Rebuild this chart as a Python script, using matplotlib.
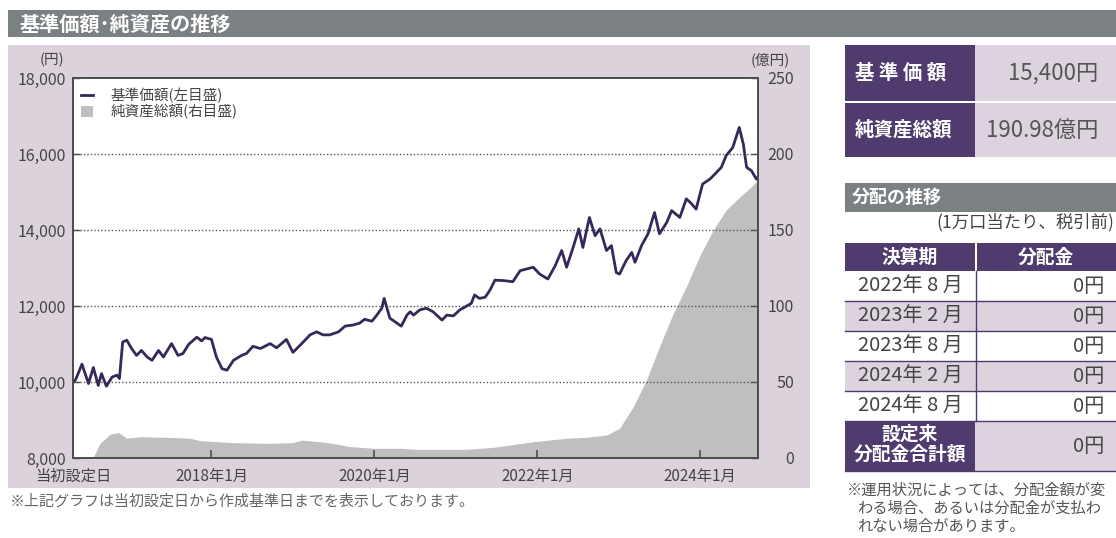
import matplotlib.pyplot as plt
from matplotlib.lines import Line2D
from matplotlib.patches import Patch, Rectangle
from matplotlib.ticker import FuncFormatter

plt.rcParams["font.family"] = ["Noto Sans CJK JP", "DejaVu Sans"]

W, H = 1116, 538

PURPLE = "#4f3b6d"
LAVENDER = "#ddd3df"
PANEL = "#dcd2dc"
BAR_GRAY = "#7b8083"
TEXT = "#444444"
LINE = "#37285a"
FILL = "#bfbfbf"
SPINE = "#4d4d4d"

# 基準価額 (円) - 時点は小数の年
nav_t = [2016.30, 2016.33, 2016.41, 2016.49, 2016.55, 2016.61, 2016.65, 2016.71,
         2016.78, 2016.84, 2016.87, 2016.91, 2016.96, 2017.02, 2017.08, 2017.14,
         2017.21, 2017.27, 2017.35, 2017.41, 2017.51, 2017.59, 2017.65, 2017.72,
         2017.82, 2017.88, 2017.92, 2018.00, 2018.06, 2018.13, 2018.19, 2018.27,
         2018.37, 2018.43, 2018.51, 2018.60, 2018.72, 2018.80, 2018.92, 2019.00,
         2019.09, 2019.21, 2019.29, 2019.37, 2019.45, 2019.56, 2019.64, 2019.74,
         2019.82, 2019.88, 2019.97, 2020.03, 2020.09, 2020.12, 2020.15, 2020.19,
         2020.25, 2020.33, 2020.40, 2020.44, 2020.48, 2020.56, 2020.64, 2020.72,
         2020.83, 2020.89, 2020.97, 2021.05, 2021.11, 2021.19, 2021.23, 2021.29,
         2021.36, 2021.42, 2021.48, 2021.58, 2021.70, 2021.79, 2021.95, 2022.03,
         2022.13, 2022.22, 2022.30, 2022.36, 2022.44, 2022.51, 2022.56, 2022.64,
         2022.71, 2022.77, 2022.85, 2022.91, 2022.97, 2023.01, 2023.09, 2023.16,
         2023.20, 2023.28, 2023.36, 2023.44, 2023.50, 2023.59, 2023.65, 2023.75,
         2023.83, 2023.89, 2023.95, 2024.03, 2024.12, 2024.18, 2024.26, 2024.32,
         2024.40, 2024.48, 2024.53, 2024.57, 2024.63, 2024.69, 2024.71]
nav = [10000, 10050, 10470, 9960, 10380, 9910, 10220, 9890,
       10130, 10180, 10090, 11050, 11100, 10880, 10700, 10830,
       10660, 10570, 10830, 10660, 11010, 10700, 10750, 10990,
       11180, 11080, 11170, 11120, 10660, 10350, 10310, 10570,
       10700, 10750, 10940, 10880, 11010, 10900, 11120, 10780,
       10970, 11240, 11320, 11240, 11240, 11320, 11470, 11500,
       11550, 11650, 11600, 11760, 11940, 12200, 11980, 11680,
       11590, 11470, 11760, 11850, 11760, 11900, 11940, 11850,
       11630, 11760, 11740, 11900, 11970, 12070, 12290, 12200,
       12230, 12420, 12680, 12670, 12640, 12930, 13020, 12840,
       12710, 13060, 13460, 13020, 13540, 14030, 13540, 14330,
       13850, 14030, 13460, 13590, 12880, 12840, 13190, 13410,
       13150, 13590, 13900, 14460, 13900, 14200, 14510, 14330,
       14820, 14700, 14550, 15210, 15340, 15470, 15650, 15960,
       16170, 16700, 16260, 15650, 15560, 15340, 15400]

# 純資産総額 (億円)
aum_t = [2016.30, 2016.55, 2016.63, 2016.76, 2016.86, 2016.96, 2017.12, 2017.45,
         2017.74, 2017.86, 2018.27, 2018.68, 2019.00, 2019.11, 2019.33, 2019.49,
         2019.70, 2019.99, 2020.31, 2020.52, 2021.13, 2021.46, 2021.95, 2022.36,
         2022.60, 2022.85, 2023.01, 2023.18, 2023.34, 2023.50, 2023.67, 2023.83,
         2023.99, 2024.16, 2024.32, 2024.49, 2024.63, 2024.71]
aum = [0, 0.5, 9.6, 15.8, 16.7, 13.0, 14.0, 13.6,
       13.0, 11.4, 10.1, 9.6, 10.1, 11.8, 10.7, 9.6,
       7.5, 6.4, 6.4, 5.7, 5.7, 7.0, 10.7, 13.0,
       13.6, 15.1, 19.5, 33.8, 51.3, 73.2, 95.2, 112.7,
       132.4, 150.0, 163.2, 171.9, 178.5, 183.0]

start_label = "当初設定日"
year_ticks = [2018, 2020, 2022, 2024]
year_labels = ["2018年1月", "2020年1月", "2022年1月", "2024年1月"]
nav_ticks = [8000, 10000, 12000, 14000, 16000, 18000]
aum_ticks = [0, 50, 100, 150, 200, 250]

latest_nav = "15,400円"
latest_aum = "190.98億円"

dist_periods = ["2022年 8 月", "2023年 2 月", "2023年 8 月", "2024年 2 月", "2024年 8 月"]
dist_amounts = ["0円", "0円", "0円", "0円", "0円"]
dist_total = "0円"


def fx(x):
    return x / W


def fy(y):
    return 1 - y / H


fig = plt.figure(figsize=(W / 100, H / 100), dpi=100)
fig.patch.set_facecolor("white")


def box(x0, y0, x1, y1, color):
    fig.patches.append(Rectangle((fx(x0), fy(y1)), (x1 - x0) / W, (y1 - y0) / H,
                                 transform=fig.transFigure, facecolor=color,
                                 edgecolor="none", zorder=-1))


def hline(x0, x1, y, color=PURPLE, lw=1.0):
    fig.add_artist(Line2D([fx(x0), fx(x1)], [fy(y), fy(y)], transform=fig.transFigure,
                          color=color, lw=lw))


def vline(x, y0, y1, color=PURPLE, lw=1.0):
    fig.add_artist(Line2D([fx(x), fx(x)], [fy(y0), fy(y1)], transform=fig.transFigure,
                          color=color, lw=lw))


def label(x, y, s, **kw):
    kw.setdefault("va", "center")
    kw.setdefault("color", TEXT)
    fig.text(fx(x), fy(y), s, **kw)


# ---- 左: チャート ----
box(8, 10, W, 37, BAR_GRAY)
label(20, 24, "基準価額･純資産の推移", color="white", fontsize=14.5, fontweight="bold")
box(8, 45, 810, 488, PANEL)

ax = fig.add_axes([fx(73), fy(458), (758 - 73) / W, (458 - 78) / H])
ax2 = ax.twinx()
ax.set_zorder(ax2.get_zorder() + 1)
ax.patch.set_visible(False)
ax2.patch.set_visible(True)
ax2.patch.set_facecolor("white")

ax2.fill_between(aum_t, aum, 0, color=FILL, lw=0)
ax.plot(nav_t, nav, color=LINE, lw=2.0, solid_joinstyle="round")

ax.set_xlim(nav_t[0], nav_t[-1])
ax.set_ylim(8000, 18000)
ax2.set_ylim(0, 250)

ax.set_xticks([nav_t[0]] + year_ticks)
ax.set_xticklabels([start_label] + year_labels)
ax.xaxis.get_major_ticks()[0].tick1line.set_visible(False)
ax.set_yticks(nav_ticks)
ax.yaxis.set_major_formatter(FuncFormatter(lambda v, p: f"{v:,.0f}"))
ax2.set_yticks(aum_ticks)

ax.tick_params(axis="x", direction="in", length=6, width=1.2, color=SPINE,
               labelsize=11, labelcolor=TEXT, pad=7)
ax.tick_params(axis="y", direction="in", length=5, width=1.0, color=SPINE,
               labelsize=11.5, labelcolor=TEXT, pad=5)
ax2.tick_params(axis="y", direction="in", length=5, width=1.0, color=SPINE,
                labelsize=11.5, labelcolor=TEXT, pad=26)
for t in ax2.get_yticklabels():
    t.set_horizontalalignment("right")

for a in (ax, ax2):
    for s in a.spines.values():
        s.set_color(SPINE)
        s.set_linewidth(1.3)

for v in nav_ticks[1:-1]:
    ax.axhline(v, color="#555555", lw=1.0, ls=(0, (1, 1.5)), zorder=1)

handles = [Line2D([0], [0], color=LINE, lw=2.0), Patch(facecolor=FILL, edgecolor="none")]
leg = ax.legend(handles, ["基準価額(左目盛)", "純資産総額(右目盛)"], loc="upper left",
                bbox_to_anchor=(0.012, 0.975), frameon=False, fontsize=10.5,
                handlelength=0.8, handleheight=0.7, handletextpad=1.2,
                labelspacing=0.1, borderpad=0, borderaxespad=0)
for t in leg.get_texts():
    t.set_color(TEXT)

label(52, 60, "(円)", ha="center", fontsize=10.5)
label(770, 60, "(億円)", ha="center", fontsize=10.5)
label(10, 501, "※上記グラフは当初設定日から作成基準日までを表示しております。",
      fontsize=10.8, color="#666666")

# ---- 右: 基準価額・純資産 ----
box(845, 45, 975, 101, PURPLE)
box(975, 45, W, 101, LAVENDER)
box(845, 103, 975, 157, PURPLE)
box(975, 103, W, 157, LAVENDER)
label(855, 73, "基 準 価 額", color="white", fontsize=14, fontweight="bold")
label(855, 130, "純資産総額", color="white", fontsize=14, fontweight="bold")
label(1098, 73, latest_nav, ha="right", fontsize=16, color="#555555")
label(1098, 130, latest_aum, ha="right", fontsize=16, color="#555555")

# ---- 右: 分配の推移 ----
box(845, 183, W, 212, BAR_GRAY)
label(852, 197, "分配の推移", color="white", fontsize=13, fontweight="bold")
label(1114, 222, "(1万口当たり、税引前)", ha="right", fontsize=12.5)

box(845, 243, 975, 271, PURPLE)
box(977, 243, W, 271, PURPLE)
label(910, 257, "決算期", ha="center", color="white", fontsize=13.5, fontweight="bold")
label(1046, 257, "分配金", ha="center", color="white", fontsize=13.5, fontweight="bold")

row_h = 30
for i, (period, amount) in enumerate(zip(dist_periods, dist_amounts)):
    y0 = 271 + i * row_h
    bg = LAVENDER if i % 2 else "white"
    box(845, y0, W, y0 + row_h, bg)
    label(910, y0 + row_h / 2, period, ha="center", fontsize=14.5)
    label(1104, y0 + row_h / 2, amount, ha="right", fontsize=14.5)
    if i > 0:
        hline(845, W, y0)

y_total = 271 + len(dist_periods) * row_h
box(845, y_total, 975, y_total + 50, PURPLE)
box(975, y_total, W, y_total + 50, LAVENDER)
hline(845, W, y_total)
vline(976, 271, y_total)
hline(845, W, y_total + 50)
label(910, y_total + 13, "設定来", ha="center", color="white", fontsize=13.5, fontweight="bold")
label(910, y_total + 33, "分配金合計額", ha="center", color="white", fontsize=13.5, fontweight="bold")
label(1104, y_total + 25, dist_total, ha="right", fontsize=14.5)

notes = ["※運用状況によっては、分配金額が変", "わる場合、あるいは分配金が支払わ", "れない場合があります。"]
for i, n in enumerate(notes):
    label(847 if i == 0 else 857, 490 + i * 18, n, fontsize=11, color="#555555")

fig.savefig("out.png", dpi=100)
